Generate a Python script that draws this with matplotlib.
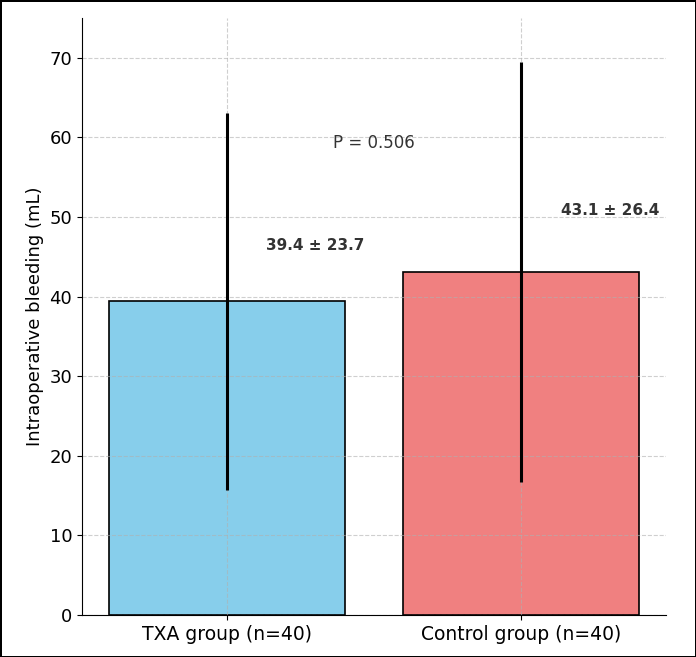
import matplotlib
matplotlib.use("Agg")
import matplotlib.pyplot as plt

groups = ["TXA group (n=40)", "Control group (n=40)"]
means = [39.4, 43.1]
sds = [23.7, 26.4]
colors = ["skyblue", "lightcoral"]
labels = ["39.4 ± 23.7", "43.1 ± 26.4"]
label_y = [46.4, 50.8]
p_text = "P = 0.506"

fig = plt.figure(figsize=(6.96, 6.57), dpi=100)
fig.patch.set_edgecolor("black")
fig.patch.set_linewidth(2)
ax = fig.add_axes([82/696, 42/657, 584/696, 597/657])

x = list(range(len(groups)))
ax.bar(x, means, width=0.8, color=colors, edgecolor="black", linewidth=1.2)
ax.errorbar(x, means, yerr=sds, fmt="none", ecolor="black", elinewidth=2.2, capsize=0, zorder=3)
for i in x:
    ax.text(i + 0.3, label_y[i], labels[i], ha="center", va="center",
            fontsize=11, fontweight="bold", color="#333333")
ax.text(0.5, 59.3, p_text, ha="center", va="center", fontsize=12, color="#333333")

ax.set_ylim(0, 75)
ax.set_xticks(x)
ax.set_xticklabels(groups, fontsize=13.5)
ax.tick_params(axis="y", labelsize=13)
ax.set_ylabel("Intraoperative bleeding (mL)", fontsize=13)
ax.grid(True, linestyle="--", alpha=0.6, color="#b0b0b0")
ax.spines["top"].set_visible(False)
ax.spines["right"].set_visible(False)

fig.savefig("out.png", dpi=100, edgecolor=fig.get_edgecolor())
